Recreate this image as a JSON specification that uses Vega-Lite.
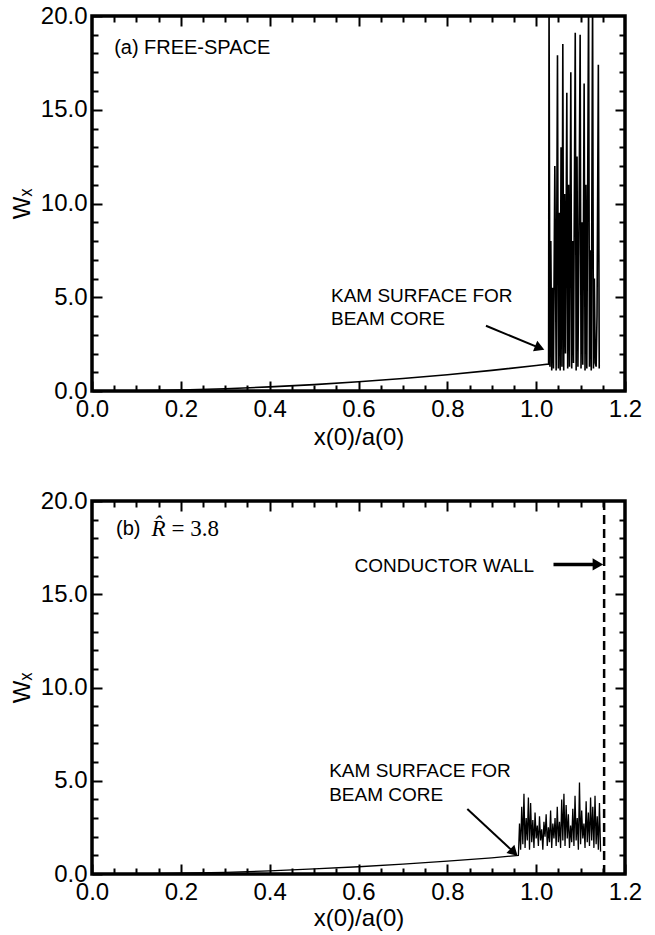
{
  "$schema": "https://vega.github.io/schema/vega-lite/v6.json",
  "background": "white",
  "padding": {"left": 8, "top": 2, "right": 5, "bottom": 5},
  "spacing": 36,
  "config": {
    "view": {"stroke": "black", "strokeWidth": 3.5},
    "axis": {"domain": false, "grid": false, "ticks": true, "zindex": 1, "labelFont": "Liberation Sans", "labelFontSize": 24, "labelColor": "black", "tickColor": "black", "tickWidth": 2, "titleFont": "Liberation Sans", "titleFontSize": 24, "titleFontWeight": "normal", "titleColor": "black", "labelFlush": false, "labelOverlap": false}
  },
  "datasets": {
    "lineA": [
      {"x": 0, "w": 0}, {"x": 0.05, "w": 0.003}, {"x": 0.1, "w": 0.014}, {"x": 0.15, "w": 0.03}, {"x": 0.2, "w": 0.055}, {"x": 0.3, "w": 0.12}, {"x": 0.4, "w": 0.22}, {"x": 0.5, "w": 0.34}, {"x": 0.6, "w": 0.49}, {"x": 0.7, "w": 0.67}, {"x": 0.8, "w": 0.87}, {"x": 0.9, "w": 1.1}, {"x": 1.0, "w": 1.36},
      {"x": 1.028, "w": 1.44}, {"x": 1.029, "w": 21}, {"x": 1.031, "w": 1.3}, {"x": 1.033, "w": 8}, {"x": 1.035, "w": 1.1}, {"x": 1.037, "w": 5.5}, {"x": 1.039, "w": 1.2}, {"x": 1.042, "w": 12}, {"x": 1.045, "w": 1.1}, {"x": 1.048, "w": 17.9}, {"x": 1.05, "w": 1.2}, {"x": 1.052, "w": 9.5}, {"x": 1.054, "w": 1.1}, {"x": 1.056, "w": 13}, {"x": 1.058, "w": 1.3}, {"x": 1.06, "w": 18.5}, {"x": 1.062, "w": 1.1}, {"x": 1.064, "w": 10.5}, {"x": 1.066, "w": 2}, {"x": 1.069, "w": 15.9}, {"x": 1.071, "w": 1.2}, {"x": 1.073, "w": 11}, {"x": 1.075, "w": 1.3}, {"x": 1.078, "w": 17}, {"x": 1.08, "w": 1.2}, {"x": 1.082, "w": 8}, {"x": 1.084, "w": 1.5}, {"x": 1.088, "w": 19.1}, {"x": 1.09, "w": 1.1}, {"x": 1.092, "w": 12.5}, {"x": 1.094, "w": 1.3}, {"x": 1.096, "w": 7}, {"x": 1.099, "w": 19}, {"x": 1.101, "w": 1.2}, {"x": 1.103, "w": 9}, {"x": 1.105, "w": 1.4}, {"x": 1.108, "w": 16.4}, {"x": 1.11, "w": 1.1}, {"x": 1.112, "w": 11}, {"x": 1.114, "w": 1.2}, {"x": 1.118, "w": 21}, {"x": 1.12, "w": 1.3}, {"x": 1.122, "w": 7.5}, {"x": 1.124, "w": 1.1}, {"x": 1.127, "w": 21}, {"x": 1.129, "w": 1.2}, {"x": 1.131, "w": 6}, {"x": 1.133, "w": 1.5}, {"x": 1.135, "w": 1.3}, {"x": 1.137, "w": 4}, {"x": 1.14, "w": 17.4}, {"x": 1.142, "w": 1.2}
    ],
    "lineB": [
      {"x": 0, "w": 0}, {"x": 0.1, "w": 0.01}, {"x": 0.2, "w": 0.04}, {"x": 0.3, "w": 0.09}, {"x": 0.4, "w": 0.17}, {"x": 0.5, "w": 0.27}, {"x": 0.6, "w": 0.39}, {"x": 0.7, "w": 0.53}, {"x": 0.8, "w": 0.69}, {"x": 0.9, "w": 0.87}, {"x": 0.96, "w": 1.0},
      {"x": 0.9625, "w": 2.7}, {"x": 0.965, "w": 1.3}, {"x": 0.9675, "w": 3.6}, {"x": 0.97, "w": 1.6}, {"x": 0.9725, "w": 4.3}, {"x": 0.975, "w": 1.4}, {"x": 0.9775, "w": 3.0}, {"x": 0.98, "w": 1.8}, {"x": 0.9825, "w": 4.1}, {"x": 0.985, "w": 1.3}, {"x": 0.9875, "w": 3.8}, {"x": 0.99, "w": 1.7}, {"x": 0.9925, "w": 2.9}, {"x": 0.995, "w": 1.4}, {"x": 0.9975, "w": 3.3}, {"x": 1.0, "w": 1.9}, {"x": 1.0025, "w": 2.6}, {"x": 1.005, "w": 1.5}, {"x": 1.0075, "w": 3.1}, {"x": 1.01, "w": 1.8}, {"x": 1.0125, "w": 2.4}, {"x": 1.015, "w": 1.3}, {"x": 1.0175, "w": 2.8}, {"x": 1.02, "w": 2.0}, {"x": 1.0225, "w": 3.2}, {"x": 1.025, "w": 1.5}, {"x": 1.0275, "w": 2.5}, {"x": 1.03, "w": 1.7}, {"x": 1.0325, "w": 3.4}, {"x": 1.035, "w": 1.4}, {"x": 1.0375, "w": 2.7}, {"x": 1.04, "w": 1.9}, {"x": 1.0425, "w": 3.0}, {"x": 1.045, "w": 1.5}, {"x": 1.0475, "w": 3.6}, {"x": 1.05, "w": 1.7}, {"x": 1.0525, "w": 2.8}, {"x": 1.055, "w": 1.4}, {"x": 1.0575, "w": 4.0}, {"x": 1.06, "w": 1.8}, {"x": 1.0625, "w": 4.3}, {"x": 1.065, "w": 1.5}, {"x": 1.0675, "w": 3.7}, {"x": 1.07, "w": 1.9}, {"x": 1.0725, "w": 3.2}, {"x": 1.075, "w": 1.4}, {"x": 1.0775, "w": 2.6}, {"x": 1.08, "w": 1.7}, {"x": 1.0825, "w": 3.5}, {"x": 1.085, "w": 1.5}, {"x": 1.0875, "w": 4.2}, {"x": 1.09, "w": 1.8}, {"x": 1.0925, "w": 3.0}, {"x": 1.095, "w": 1.3}, {"x": 1.0975, "w": 4.9}, {"x": 1.1, "w": 1.6}, {"x": 1.1025, "w": 3.4}, {"x": 1.105, "w": 1.9}, {"x": 1.1075, "w": 2.7}, {"x": 1.11, "w": 1.4}, {"x": 1.1125, "w": 3.9}, {"x": 1.115, "w": 1.7}, {"x": 1.1175, "w": 3.3}, {"x": 1.12, "w": 1.5}, {"x": 1.1225, "w": 4.1}, {"x": 1.125, "w": 1.8}, {"x": 1.1275, "w": 3.6}, {"x": 1.13, "w": 1.4}, {"x": 1.1325, "w": 4.2}, {"x": 1.135, "w": 1.6}, {"x": 1.1375, "w": 3.1}, {"x": 1.14, "w": 1.3}, {"x": 1.1425, "w": 3.8}, {"x": 1.145, "w": 1.2}
    ],
    "annA": [
      {"x": 0.538, "w": 5.07, "label": "KAM SURFACE FOR"},
      {"x": 0.538, "w": 3.84, "label": "BEAM CORE"}
    ],
    "annB": [
      {"x": 0.534, "w": 5.5, "label": "KAM SURFACE FOR"},
      {"x": 0.534, "w": 4.24, "label": "BEAM CORE"},
      {"x": 0.591, "w": 16.5, "label": "CONDUCTOR WALL"}
    ],
    "titleA": [
      {"x": 0.05, "w": 18.3, "label": "(a)"},
      {"x": 0.117, "w": 18.3, "label": "FREE-SPACE"}
    ],
    "titleB": [{"x": 0.054, "w": 18.5, "label": "(b)"}],
    "titleBR": [{"x": 0.134, "w": 18.5, "label": "R̂"}],
    "titleBEq": [{"x": 0.179, "w": 18.5, "label": "= 3.8"}],
    "arrowA": [{"x": 0.887, "w": 3.48, "x2": 1.01, "w2": 2.27}],
    "headA": [{"x": 1.008, "w": 2.3}],
    "arrowB": [{"x": 0.845, "w": 3.49, "x2": 0.952, "w2": 1.12}],
    "headB": [{"x": 0.95, "w": 1.16}],
    "wall": [{"x": 1.153, "w": 0, "w2": 20}],
    "wallArrow": [{"x": 1.039, "w": 16.6, "x2": 1.14, "w2": 16.6}],
    "wallHead": [{"x": 1.139, "w": 16.6}]
  },
  "vconcat": [
    {
      "width": 533,
      "height": 375,
      "resolve": {"axis": {"x": "independent", "y": "independent"}},
      "layer": [
        {
          "data": {"name": "lineA"},
          "mark": {"type": "line", "color": "black", "strokeWidth": 1.6, "clip": true},
          "encoding": {
            "x": {"field": "x", "type": "quantitative", "scale": {"domain": [0, 1.2], "nice": false}, "axis": {"orient": "bottom", "values": [0, 0.2, 0.4, 0.6, 0.8, 1.0, 1.2], "format": ".1f", "tickSize": -10, "labelPadding": 16, "title": "x(0)/a(0)", "titlePadding": 4}},
            "y": {"field": "w", "type": "quantitative", "scale": {"domain": [0, 20], "nice": false}, "axis": {"orient": "left", "values": [0, 5, 10, 15, 20], "format": ".1f", "tickSize": -10, "labelPadding": 15, "title": "Wₓ", "titlePadding": 6}}
          }
        },
        {
          "data": {"name": "annA"},
          "mark": {"type": "text", "align": "left", "baseline": "middle", "font": "Liberation Sans", "fontSize": 19, "color": "black"},
          "encoding": {
            "x": {"field": "x", "type": "quantitative", "scale": {"domain": [0, 1.2], "nice": false}, "axis": {"orient": "top", "values": [0.2, 0.4, 0.6, 0.8, 1.0], "tickSize": -10, "labels": false, "title": null}},
            "y": {"field": "w", "type": "quantitative", "scale": {"domain": [0, 20], "nice": false}, "axis": {"orient": "right", "values": [5, 10, 15], "tickSize": -10, "labels": false, "title": null}},
            "text": {"field": "label"}
          }
        },
        {
          "data": {"name": "arrowA"},
          "mark": {"type": "rule", "color": "black", "strokeWidth": 2},
          "encoding": {
            "x": {"field": "x", "type": "quantitative", "scale": {"domain": [0, 1.2], "nice": false}, "axis": {"orient": "bottom", "values": [0.05, 0.1, 0.15, 0.25, 0.3, 0.35, 0.45, 0.5, 0.55, 0.65, 0.7, 0.75, 0.85, 0.9, 0.95, 1.05, 1.1, 1.15], "tickSize": -6, "labels": false, "title": null}},
            "y": {"field": "w", "type": "quantitative", "scale": {"domain": [0, 20], "nice": false}, "axis": {"orient": "left", "values": [1, 2, 3, 4, 6, 7, 8, 9, 11, 12, 13, 14, 16, 17, 18, 19], "tickSize": -6, "labels": false, "title": null}},
            "x2": {"field": "x2"},
            "y2": {"field": "w2"}
          }
        },
        {
          "data": {"name": "headA"},
          "mark": {"type": "point", "shape": "triangle-right", "filled": true, "color": "black", "opacity": 1, "size": 130, "angle": 22},
          "encoding": {
            "x": {"field": "x", "type": "quantitative", "scale": {"domain": [0, 1.2], "nice": false}, "axis": {"orient": "top", "values": [0.05, 0.1, 0.15, 0.25, 0.3, 0.35, 0.45, 0.5, 0.55, 0.65, 0.7, 0.75, 0.85, 0.9, 0.95, 1.05, 1.1, 1.15], "tickSize": -6, "labels": false, "title": null}},
            "y": {"field": "w", "type": "quantitative", "scale": {"domain": [0, 20], "nice": false}, "axis": {"orient": "right", "values": [1, 2, 3, 4, 6, 7, 8, 9, 11, 12, 13, 14, 16, 17, 18, 19], "tickSize": -6, "labels": false, "title": null}}
          }
        },
        {
          "data": {"name": "titleA"},
          "mark": {"type": "text", "align": "left", "baseline": "middle", "font": "Liberation Sans", "fontSize": 20, "color": "black"},
          "encoding": {
            "x": {"field": "x", "type": "quantitative", "scale": {"domain": [0, 1.2], "nice": false}, "axis": null},
            "y": {"field": "w", "type": "quantitative", "scale": {"domain": [0, 20], "nice": false}, "axis": null},
            "text": {"field": "label"}
          }
        }
      ]
    },
    {
      "width": 533,
      "height": 373,
      "resolve": {"axis": {"x": "independent", "y": "independent"}},
      "layer": [
        {
          "data": {"name": "lineB"},
          "mark": {"type": "line", "color": "black", "strokeWidth": 1.3, "clip": true},
          "encoding": {
            "x": {"field": "x", "type": "quantitative", "scale": {"domain": [0, 1.2], "nice": false}, "axis": {"orient": "bottom", "values": [0, 0.2, 0.4, 0.6, 0.8, 1.0, 1.2], "format": ".1f", "tickSize": -10, "labelPadding": 16, "title": "x(0)/a(0)", "titlePadding": 2}},
            "y": {"field": "w", "type": "quantitative", "scale": {"domain": [0, 20], "nice": false}, "axis": {"orient": "left", "values": [0, 5, 10, 15, 20], "format": ".1f", "tickSize": -10, "labelPadding": 15, "title": "Wₓ", "titlePadding": 6}}
          }
        },
        {
          "data": {"name": "annB"},
          "mark": {"type": "text", "align": "left", "baseline": "middle", "font": "Liberation Sans", "fontSize": 19, "color": "black"},
          "encoding": {
            "x": {"field": "x", "type": "quantitative", "scale": {"domain": [0, 1.2], "nice": false}, "axis": {"orient": "top", "values": [0.2, 0.4, 0.6, 0.8, 1.0], "tickSize": -10, "labels": false, "title": null}},
            "y": {"field": "w", "type": "quantitative", "scale": {"domain": [0, 20], "nice": false}, "axis": {"orient": "right", "values": [5, 10, 15], "tickSize": -10, "labels": false, "title": null}},
            "text": {"field": "label"}
          }
        },
        {
          "data": {"name": "arrowB"},
          "mark": {"type": "rule", "color": "black", "strokeWidth": 2},
          "encoding": {
            "x": {"field": "x", "type": "quantitative", "scale": {"domain": [0, 1.2], "nice": false}, "axis": {"orient": "bottom", "values": [0.05, 0.1, 0.15, 0.25, 0.3, 0.35, 0.45, 0.5, 0.55, 0.65, 0.7, 0.75, 0.85, 0.9, 0.95, 1.05, 1.1, 1.15], "tickSize": -6, "labels": false, "title": null}},
            "y": {"field": "w", "type": "quantitative", "scale": {"domain": [0, 20], "nice": false}, "axis": {"orient": "left", "values": [1, 2, 3, 4, 6, 7, 8, 9, 11, 12, 13, 14, 16, 17, 18, 19], "tickSize": -6, "labels": false, "title": null}},
            "x2": {"field": "x2"},
            "y2": {"field": "w2"}
          }
        },
        {
          "data": {"name": "headB"},
          "mark": {"type": "point", "shape": "triangle-right", "filled": true, "color": "black", "opacity": 1, "size": 130, "angle": 44},
          "encoding": {
            "x": {"field": "x", "type": "quantitative", "scale": {"domain": [0, 1.2], "nice": false}, "axis": {"orient": "top", "values": [0.05, 0.1, 0.15, 0.25, 0.3, 0.35, 0.45, 0.5, 0.55, 0.65, 0.7, 0.75, 0.85, 0.9, 0.95, 1.05, 1.1, 1.15], "tickSize": -6, "labels": false, "title": null}},
            "y": {"field": "w", "type": "quantitative", "scale": {"domain": [0, 20], "nice": false}, "axis": {"orient": "right", "values": [1, 2, 3, 4, 6, 7, 8, 9, 11, 12, 13, 14, 16, 17, 18, 19], "tickSize": -6, "labels": false, "title": null}}
          }
        },
        {
          "data": {"name": "wall"},
          "mark": {"type": "rule", "color": "black", "strokeWidth": 2.5, "strokeDash": [9, 5]},
          "encoding": {
            "x": {"field": "x", "type": "quantitative", "scale": {"domain": [0, 1.2], "nice": false}, "axis": null},
            "y": {"field": "w", "type": "quantitative", "scale": {"domain": [0, 20], "nice": false}, "axis": null},
            "y2": {"field": "w2"}
          }
        },
        {
          "data": {"name": "wallArrow"},
          "mark": {"type": "rule", "color": "black", "strokeWidth": 3.5},
          "encoding": {
            "x": {"field": "x", "type": "quantitative", "scale": {"domain": [0, 1.2], "nice": false}, "axis": null},
            "y": {"field": "w", "type": "quantitative", "scale": {"domain": [0, 20], "nice": false}, "axis": null},
            "x2": {"field": "x2"},
            "y2": {"field": "w2"}
          }
        },
        {
          "data": {"name": "wallHead"},
          "mark": {"type": "point", "shape": "triangle-right", "filled": true, "color": "black", "opacity": 1, "size": 150, "angle": 0},
          "encoding": {
            "x": {"field": "x", "type": "quantitative", "scale": {"domain": [0, 1.2], "nice": false}, "axis": null},
            "y": {"field": "w", "type": "quantitative", "scale": {"domain": [0, 20], "nice": false}, "axis": null}
          }
        },
        {
          "data": {"name": "titleB"},
          "mark": {"type": "text", "align": "left", "baseline": "middle", "font": "Liberation Sans", "fontSize": 20, "color": "black"},
          "encoding": {
            "x": {"field": "x", "type": "quantitative", "scale": {"domain": [0, 1.2], "nice": false}, "axis": null},
            "y": {"field": "w", "type": "quantitative", "scale": {"domain": [0, 20], "nice": false}, "axis": null},
            "text": {"field": "label"}
          }
        },
        {
          "data": {"name": "titleBR"},
          "mark": {"type": "text", "align": "left", "baseline": "middle", "font": "Liberation Serif", "fontStyle": "italic", "fontSize": 23, "color": "black"},
          "encoding": {
            "x": {"field": "x", "type": "quantitative", "scale": {"domain": [0, 1.2], "nice": false}, "axis": null},
            "y": {"field": "w", "type": "quantitative", "scale": {"domain": [0, 20], "nice": false}, "axis": null},
            "text": {"field": "label"}
          }
        },
        {
          "data": {"name": "titleBEq"},
          "mark": {"type": "text", "align": "left", "baseline": "middle", "font": "Liberation Serif", "fontSize": 23, "color": "black"},
          "encoding": {
            "x": {"field": "x", "type": "quantitative", "scale": {"domain": [0, 1.2], "nice": false}, "axis": null},
            "y": {"field": "w", "type": "quantitative", "scale": {"domain": [0, 20], "nice": false}, "axis": null},
            "text": {"field": "label"}
          }
        }
      ]
    }
  ]
}
